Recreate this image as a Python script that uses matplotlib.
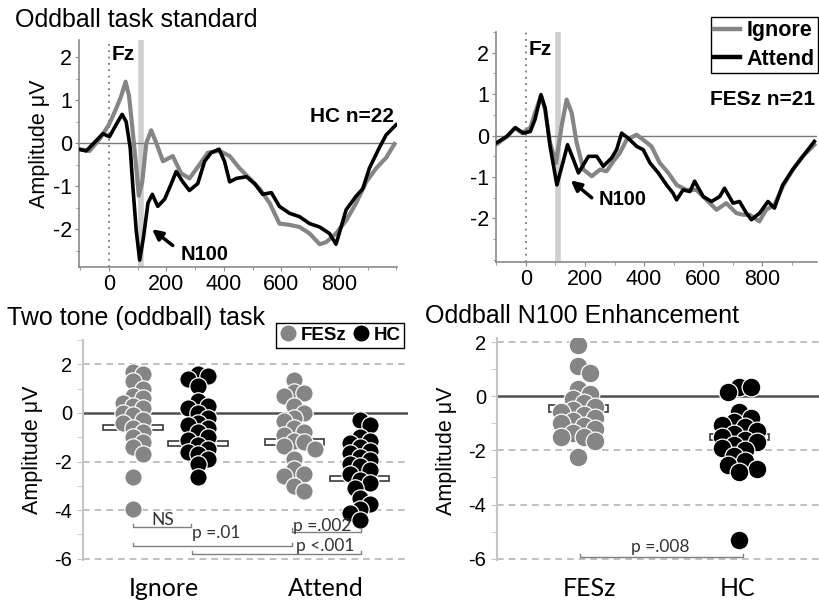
"""
Oddball task: ERP waveforms (top) and N100 amplitude dot plots (bottom).
"""
import numpy as np
import matplotlib
matplotlib.use("Agg")
import matplotlib.pyplot as plt
from matplotlib.lines import Line2D
from matplotlib.patches import Rectangle
from matplotlib.ticker import MultipleLocator

# ---- ERP waveforms at Fz (time in ms, amplitude in uV) ----
hc_ignore_t = [-105, -67, -32, 0, 25, 43, 58, 70, 81, 93, 104, 116, 130, 147, 165,
               188, 222, 251, 280, 315, 344, 385, 420, 454, 489, 524, 559, 593, 628,
               663, 698, 733, 756, 790, 825, 860, 895, 930, 964, 993]
hc_ignore_v = [-0.14, -0.18, 0.1, 0.43, 0.8, 1.1, 1.43, 1.1, 0.4, -0.42, -1.22, -0.9, 0,
               0.3, 0, -0.42, -0.3, -0.7, -0.82, -0.5, -0.22, -0.18, -0.3, -0.58, -0.82,
               -1.06, -1.39, -1.87, -1.9, -1.95, -2.1, -2.35, -2.3, -2.1, -1.8, -1.39,
               -0.9, -0.58, -0.34, -0.02]
hc_attend_t = [-105, -79, -44, -21, 2, 25, 46, 60, 74, 83, 95, 107, 120, 136, 151, 170,
               194, 217, 234, 257, 280, 309, 333, 356, 383, 402, 420, 443, 478, 507, 535,
               565, 593, 628, 663, 698, 733, 767, 790, 825, 860, 883, 906, 941, 964, 999]
hc_attend_v = [-0.14, -0.18, 0.06, 0.22, 0.15, 0.43, 0.67, 0.5, -0.1, -0.98, -2.03, -2.72,
               -2.2, -1.39, -1.19, -1.47, -1.3, -0.94, -0.66, -0.9, -1.1, -0.94, -0.42,
               -0.22, -0.14, -0.42, -0.9, -0.82, -0.78, -0.94, -1.19, -1.15, -1.47, -1.63,
               -1.71, -1.87, -1.95, -2.1, -2.35, -1.55, -1.23, -1.06, -0.58, -0.1, 0.19, 0.43]
fesz_ignore_t = [-101, -64, -36, -13, 15, 31, 51, 65, 82, 102, 121, 138, 155, 172, 195,
                 223, 251, 273, 296, 318, 341, 375, 397, 425, 453, 482, 510, 543, 577, 611,
                 645, 678, 712, 735, 757, 790, 813, 841, 869, 903, 937, 976]
fesz_ignore_v = [-0.22, -0.02, 0.19, 0.06, 0.19, 0.55, 0.95, 0.63, -0.18, -0.66, 0.23, 0.87,
                 0.55, -0.18, -0.82, -0.98, -0.82, -0.86, -0.62, -0.42, -0.1, 0.02, -0.1,
                 -0.26, -0.66, -0.9, -1.19, -1.31, -1.31, -1.55, -1.79, -1.63, -1.87, -1.91,
                 -1.91, -2.07, -1.79, -1.67, -1.23, -0.82, -0.5, -0.22]
fesz_attend_t = [-101, -64, -36, -8, 15, 31, 51, 65, 82, 105, 125, 141, 161, 178, 195, 212,
                 240, 262, 290, 307, 324, 346, 375, 397, 420, 448, 476, 498, 510, 532, 555,
                 571, 600, 628, 656, 672, 701, 723, 746, 763, 791, 819, 841, 869, 903, 937, 976]
fesz_attend_v = [-0.18, -0.02, 0.19, 0.06, 0.1, 0.39, 0.99, 0.67, -0.26, -1.19, -0.66, -0.22,
                 -0.58, -0.9, -0.7, -0.5, -0.5, -0.74, -0.54, -0.34, 0.06, -0.06, -0.26,
                 -0.34, -0.66, -0.9, -1.19, -1.39, -1.55, -1.31, -1.35, -1.1, -1.47, -1.59,
                 -1.47, -1.27, -1.63, -1.59, -1.87, -2.03, -1.87, -1.59, -1.75, -1.19, -0.82,
                 -0.5, -0.14]

# ---- individual N100 amplitudes (uV) ----
conditions = ["Ignore", "Attend"]
fesz_ignore = [1.7, 1.6, 1.3, 1.0, 0.7, 0.6, 0.4, 0.3, 0.2, 0.0, -0.1, -0.3, -0.4, -0.6,
               -0.8, -1.0, -1.2, -1.4, -1.7, -2.65, -3.95]
hc_ignore = [1.6, 1.5, 1.4, 1.1, 0.5, 0.3, 0.2, 0.0, -0.2, -0.4, -0.5, -0.6, -0.8, -1.0,
             -1.1, -1.3, -1.5, -1.6, -1.7, -1.9, -2.1, -2.65]
fesz_attend = [1.35, 0.85, 0.8, 0.7, 0.3, 0.0, -0.2, -0.35, -0.6, -0.8, -0.9, -1.15, -1.2,
               -1.35, -1.5, -1.9, -2.3, -2.5, -2.6, -3.0, -3.2]
hc_attend = [-0.3, -0.5, -1.0, -1.15, -1.25, -1.4, -1.55, -1.65, -1.8, -1.95, -2.1, -2.2,
             -2.35, -2.5, -2.75, -2.9, -3.1, -3.5, -3.75, -3.95, -4.1, -4.4]
task_means = [-0.6, -1.25, -1.2, -2.7]   # FESz-Ign, HC-Ign, FESz-Att, HC-Att

groups = ["FESz", "HC"]
fesz_enh = [1.9, 1.1, 0.85, 0.25, 0.1, -0.1, -0.25, -0.4, -0.5, -0.6, -0.7, -0.8, -0.9,
            -1.0, -1.1, -1.2, -1.35, -1.5, -1.5, -1.65, -2.25]
hc_enh = [0.35, 0.35, 0.15, -0.6, -0.8, -0.95, -1.05, -1.15, -1.3, -1.4, -1.5, -1.6, -1.7,
          -1.8, -1.9, -2.0, -2.2, -2.4, -2.55, -2.7, -2.8, -5.3]
enh_means = [-0.45, -1.5]

GRAY = "#858585"
plt.rcParams["font.family"] = ["Liberation Sans", "DejaVu Sans"]
plt.rcParams["axes.unicode_minus"] = False

W, H = 820, 602


def fig_rect(left, top, right, bottom):
    return [left / W, 1 - bottom / H, (right - left) / W, (bottom - top) / H]


def swarm(values, xscale, yscale, diam, gap=0.55):
    """x offsets (data units) so that dots keep a minimum pixel distance."""
    vals = np.asarray(values, float)
    placed = []
    offs = np.zeros(len(vals))
    step = diam * 0.3
    for i in np.argsort(-vals):
        y = vals[i] * yscale
        cand = 0.0
        for k in range(80):
            cand = ((k + 1) // 2) * step * (1 if k % 2 else -1)
            if all(np.hypot(cand - px, y - py) >= diam * gap for px, py in placed):
                break
        placed.append((cand, y))
        offs[i] = cand / xscale
    return offs


def erp_panel(ax, ign_t, ign_v, att_t, att_v, xlim, ylim):
    ax.axvline(110, color="#cfcfcf", lw=4, zorder=1)
    ax.axvline(0, color="#777777", lw=1.3, ls=(0, (1, 2.5)), zorder=1)
    ax.axhline(0, color="#7a7a7a", lw=1, zorder=1)
    ax.plot(ign_t, ign_v, color=GRAY, lw=3.0, zorder=3, solid_joinstyle="round")
    ax.plot(att_t, att_v, color="black", lw=2.6, zorder=4, solid_joinstyle="round")
    ax.set_xlim(*xlim)
    ax.set_ylim(*ylim)
    ax.set_xticks([0, 200, 400, 600, 800])
    ax.xaxis.set_minor_locator(MultipleLocator(100))
    ax.set_yticks([-2, -1, 0, 1, 2])
    ax.yaxis.set_minor_locator(MultipleLocator(0.5))
    for s in ["top", "right"]:
        ax.spines[s].set_visible(False)
    for s in ["left", "bottom"]:
        ax.spines[s].set_color("#8a8a8a")
        ax.spines[s].set_linewidth(1.2)
    ax.tick_params(which="both", direction="out", color="#8a8a8a", labelsize=15.5, pad=2)
    ax.tick_params(which="major", length=3)
    ax.tick_params(which="minor", length=2)


def n100_arrow(ax, head, tail, text_xy):
    ax.annotate("", xy=head, xytext=tail,
                arrowprops=dict(arrowstyle="-|>", lw=2.5, color="black",
                                mutation_scale=15, shrinkA=0, shrinkB=0))
    ax.text(*text_xy, "N100", fontsize=14.5, fontweight="bold", va="center", ha="left")


def dot_axes(ax, ylim):
    ax.set_xlim(0, 5)
    ax.set_ylim(*ylim)
    for y in [2, -2, -4, -6]:
        ax.axhline(y, color="#b5b5b5", lw=1.2, ls=(0, (4, 3)), zorder=0)
    ax.axhline(0, color="#505050", lw=1.8, zorder=1)
    for s in ["top", "right", "bottom"]:
        ax.spines[s].set_visible(False)
    ax.spines["left"].set_color("#c4c4c4")
    ax.spines["left"].set_linewidth(1.5)
    ax.set_yticks([-6, -4, -2, 0, 2])
    ax.yaxis.set_minor_locator(MultipleLocator(1))
    ax.tick_params(axis="y", which="both", color="#c4c4c4", length=4, labelsize=14.5, pad=4)
    ax.tick_params(axis="x", length=0, labelsize=18, pad=12)


def draw_dots(ax, values, center, color, mean, diam_px, size):
    bb = ax.get_window_extent()
    xs = bb.width / (ax.get_xlim()[1] - ax.get_xlim()[0])
    ys = bb.height / (ax.get_ylim()[1] - ax.get_ylim()[0])
    x = center + swarm(values, xs, ys, diam_px)
    ax.add_patch(Rectangle((center - 0.455, mean - 0.115), 0.91, 0.23, fill=False,
                           edgecolor="#3a3a3a", lw=1.2, zorder=2))
    ax.scatter(x, values, s=size ** 2, c=color, edgecolors="white", linewidths=0.9,
               zorder=3)


def bracket(ax, x0, x1, y, label, lx, ly, h=0.13):
    ax.plot([x0, x0, x1, x1], [y + h, y, y, y + h], color="#808080", lw=1, zorder=4)
    ax.text(lx, ly, label, fontsize=12.5, ha="center", va="center", color="#333333",
            family=["Lato", "DejaVu Sans"], zorder=5)


fig = plt.figure(figsize=(8.2, 6.02), dpi=100)

# ---- top left: HC ----
ax1 = fig.add_axes(fig_rect(79, 40, 397, 267))
erp_panel(ax1, hc_ignore_t, hc_ignore_v, hc_attend_t, hc_attend_v, (-104, 1002), (-2.88, 2.4))
ax1.text(8, 2.06, "Fz", fontsize=15, fontweight="bold", va="center")
ax1.text(993, 0.61, "HC n=22", fontsize=15, fontweight="bold", va="center", ha="right")
n100_arrow(ax1, (150, -2.0), (222, -2.38), (251, -2.6))

# ---- top right: FESz ----
ax2 = fig.add_axes(fig_rect(496, 32, 817, 262))
erp_panel(ax2, fesz_ignore_t, fesz_ignore_v, fesz_attend_t, fesz_attend_v, (-101, 985), (-3.05, 2.5))
ax2.text(9, 2.08, "Fz", fontsize=15, fontweight="bold", va="center")
ax2.text(622, 0.87, "FESz n=21", fontsize=15, fontweight="bold", va="center", clip_on=False)
n100_arrow(ax2, (152, -1.08), (223, -1.5), (245, -1.55))

fig.legend(handles=[Line2D([], [], color=GRAY, lw=3.2), Line2D([], [], color="black", lw=3.2)],
           labels=["Ignore", "Attend"], loc="upper left",
           bbox_to_anchor=(711 / W, 1 - 17 / H), borderaxespad=0, borderpad=0.15,
           handlelength=1.2, handletextpad=0.3, labelspacing=0.35, fancybox=False,
           edgecolor="black", framealpha=1, prop=dict(size=15.5, weight="bold"))

fig.text(15 / W, 1 - 27 / H, "Oddball task standard", fontsize=18, va="baseline")
fig.text(40 / W, 1 - 144 / H, "Amplitude μV", fontsize=15.5, rotation=90, ha="center", va="center")

# ---- bottom left: two tone task ----
ax3 = fig.add_axes(fig_rect(83, 340, 408, 560))
dot_axes(ax3, (-6.05, 3.0))
cond_x = [1.27, 3.76]
ax3.set_xticks([1.25, 3.74])
ax3.set_xticklabels(conditions, family=["Lato", "DejaVu Sans"])
task_vals = [fesz_ignore, hc_ignore, fesz_attend, hc_attend]
task_x = [cond_x[0] - 0.5, cond_x[0] + 0.5, cond_x[1] - 0.51, cond_x[1] + 0.5]
task_col = [GRAY, "black", GRAY, "black"]
for vals, cx, col, m in zip(task_vals, task_x, task_col, task_means):
    draw_dots(ax3, vals, cx, col, m, 17, 12.5)
bracket(ax3, 0.77, 1.66, -4.71, "NS", 1.23, -4.39)
bracket(ax3, 0.77, 3.22, -5.49, "p =.01", 2.05, -4.92)
bracket(ax3, 3.22, 4.28, -4.88, "p =.002", 3.68, -4.67)
bracket(ax3, 1.68, 4.28, -5.82, "p <.001", 3.72, -5.49)

ax3.legend(handles=[Line2D([], [], ls="", marker="o", ms=12.5, color=GRAY, mec="white"),
                    Line2D([], [], ls="", marker="o", ms=12.5, color="black", mec="white")],
           labels=groups, ncol=2, loc="upper left", bbox_to_anchor=(276 / W, 1 - 323 / H),
           bbox_transform=fig.transFigure, borderaxespad=0, borderpad=0.2,
           handlelength=0.9, handletextpad=0.2, columnspacing=0.35, fancybox=False,
           edgecolor="black", framealpha=1, prop=dict(size=13.5, weight="bold"))

fig.text(7 / W, 1 - 325 / H, "Two tone (oddball) task", fontsize=18, va="baseline")
fig.text(33 / W, 1 - 450 / H, "Amplitude μV", fontsize=15.5, rotation=90, ha="center", va="center")

# ---- bottom right: N100 enhancement ----
ax4 = fig.add_axes(fig_rect(497, 338, 822, 560))
dot_axes(ax4, (-6.05, 2.15))
ax4.set_xticks([1.42, 3.7])
ax4.set_xticklabels(groups, family=["Lato", "DejaVu Sans"])
draw_dots(ax4, fesz_enh, 1.25, GRAY, enh_means[0], 19, 13.5)
draw_dots(ax4, hc_enh, 3.73, "black", enh_means[1], 19, 13.5)
bracket(ax4, 1.27, 3.78, -5.94, "p =.008", 2.51, -5.57)

fig.text(425 / W, 1 - 323 / H, "Oddball N100 Enhancement", fontsize=18, va="baseline")
fig.text(447 / W, 1 - 451 / H, "Amplitude μV", fontsize=15.5, rotation=90, ha="center", va="center")

fig.savefig("out.png", dpi=100)
